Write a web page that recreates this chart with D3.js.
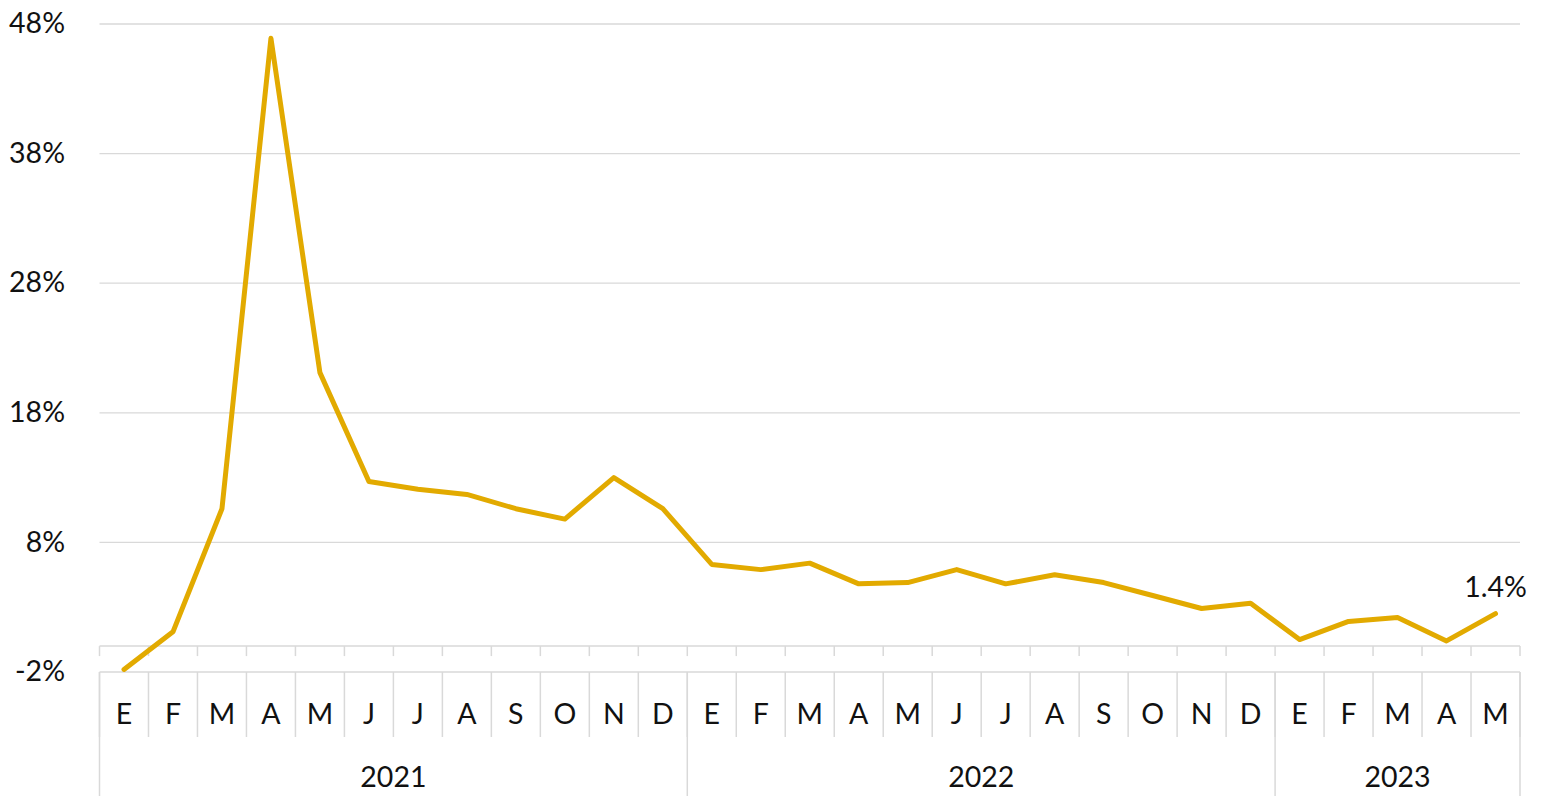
<!DOCTYPE html>
<html><head><meta charset="utf-8">
<script src="https://cdn.jsdelivr.net/npm/d3@7"></script>
<style>
html,body{margin:0;padding:0;background:#fff;}
text{font-family:Lato,"Noto Sans",sans-serif;font-weight:400;fill:#111;}
</style></head>
<body><svg id="c" width="1543" height="796"></svg>
<script>
const months = ["E","F","M","A","M","J","J","A","S","O","N","D",
                "E","F","M","A","M","J","J","A","S","O","N","D",
                "E","F","M","A","M"];
const years = ["2021","2022","2023"];
const yearCounts = [12,12,5];
const values = [-1.8,1.1,10.6,46.9,21.1,12.7,12.1,11.7,10.6,9.8,13.0,10.6,
                6.3,5.9,6.4,4.8,4.9,5.9,4.8,5.5,4.9,3.9,2.9,3.3,
                0.5,1.9,2.2,0.4,2.5];
const yTicks = [-2,8,18,28,38,48];
const lastLabel = "1.4%";

(function(){
const svg = d3.select("#c");
const pL = 99.5, pR = 1520, pT = 24, pB = 672;
const x = d3.scaleBand().domain(d3.range(months.length)).range([pL,pR]).padding(0);
const y = d3.scaleLinear().domain([-2,48]).range([pB,pT]);
const grid = "#d9d9d9";
const fs = 28.5;

svg.append("g").selectAll("line").data(yTicks.filter(d=>d>0)).join("line")
  .attr("x1",pL).attr("x2",pR).attr("y1",d=>y(d)).attr("y2",d=>y(d))
  .attr("stroke",grid).attr("stroke-width",1.3);

svg.append("g").selectAll("text").data(yTicks).join("text")
  .attr("x",65).attr("y",d=>y(d)-1).attr("dy","0.36em").attr("text-anchor","end")
  .attr("font-size",fs).text(d=>d+"%");

svg.append("line").attr("x1",pL).attr("x2",pR).attr("y1",y(0)).attr("y2",y(0))
  .attr("stroke",grid).attr("stroke-width",1.5);
const bounds = d3.range(months.length+1).map(i=> i<months.length ? x(i) : pR);
svg.append("g").selectAll("line").data(bounds).join("line")
  .attr("x1",d=>d).attr("x2",d=>d).attr("y1",y(0)).attr("y2",y(0)+10)
  .attr("stroke",grid).attr("stroke-width",1.5);

svg.append("line").attr("x1",pL).attr("x2",pR).attr("y1",pB).attr("y2",pB)
  .attr("stroke",grid).attr("stroke-width",1.5);
svg.append("g").selectAll("line").data(bounds).join("line")
  .attr("x1",d=>d).attr("x2",d=>d).attr("y1",pB).attr("y2",737)
  .attr("stroke",grid).attr("stroke-width",1.5);
let cum=[0]; yearCounts.forEach(c=>cum.push(cum[cum.length-1]+c));
svg.append("g").selectAll("line").data(cum).join("line")
  .attr("x1",i=>bounds[i]).attr("x2",i=>bounds[i]).attr("y1",pB).attr("y2",796)
  .attr("stroke",grid).attr("stroke-width",1.5);

svg.append("g").selectAll("text").data(months).join("text")
  .attr("x",(d,i)=>x(i)+x.bandwidth()/2).attr("y",714).attr("dy","0.36em")
  .attr("text-anchor","middle").attr("font-size",fs).text(d=>d);
svg.append("g").selectAll("text").data(years).join("text")
  .attr("x",(d,i)=>(bounds[cum[i]]+bounds[cum[i+1]])/2).attr("y",777).attr("dy","0.36em")
  .attr("text-anchor","middle").attr("font-size",fs).text(d=>d);

const line = d3.line().x((d,i)=>x(i)+x.bandwidth()/2).y(d=>y(d));
svg.append("path").datum(values).attr("d",line).attr("fill","none")
  .attr("stroke","#e2aa00").attr("stroke-width",5).attr("stroke-linejoin","round").attr("stroke-linecap","round");

const n = values.length-1;
svg.append("text").attr("x",x(n)+x.bandwidth()/2).attr("y",y(values[n])-17)
  .attr("text-anchor","middle").attr("font-size",fs).text(lastLabel);
})();
</script></body></html>
